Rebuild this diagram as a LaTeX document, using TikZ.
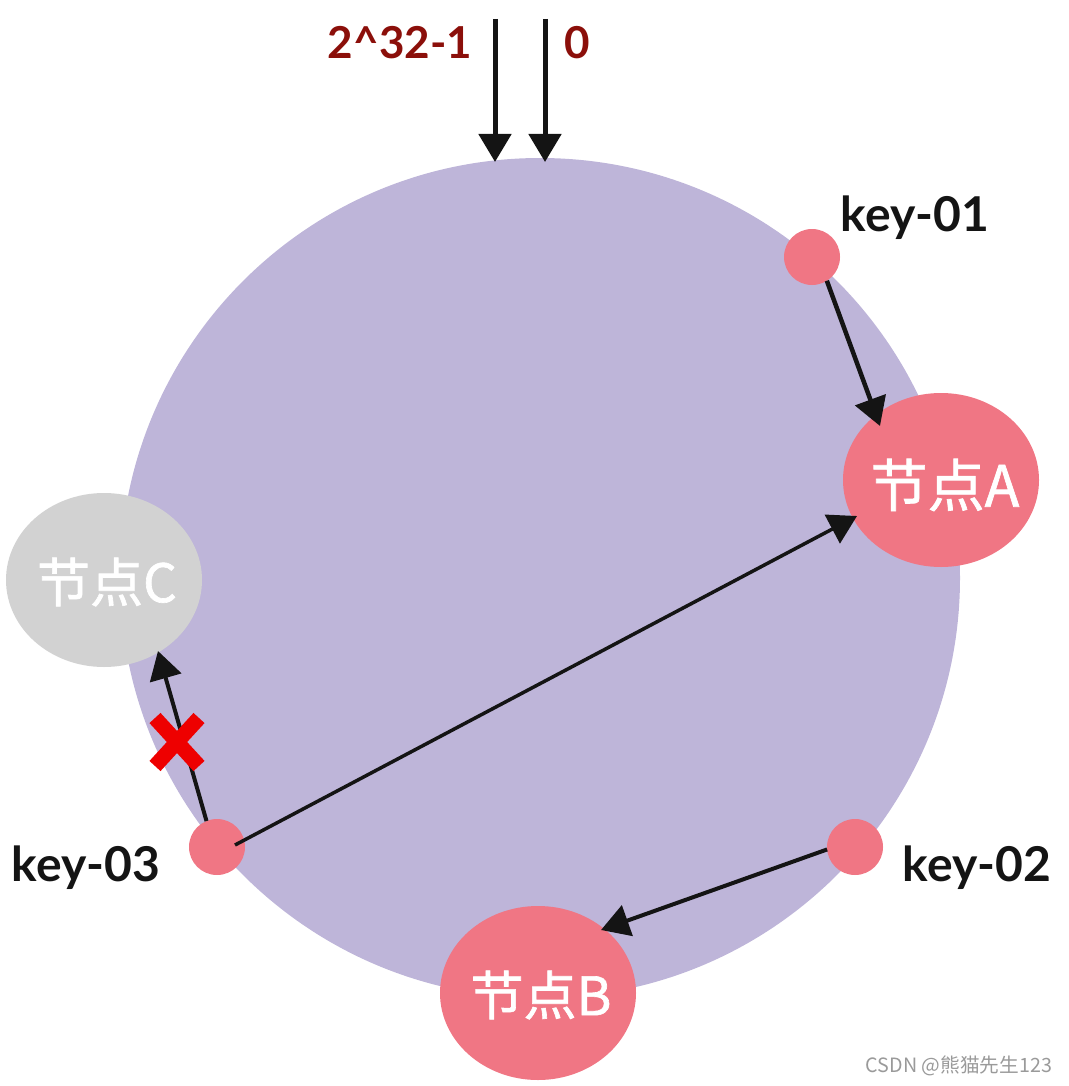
\documentclass[tikz,border=0pt]{standalone}
\usepackage{fontspec}
\setmainfont{Lato}
\newfontfamily\cjkf{Noto Sans CJK SC}
\newfontfamily\cjkm[FakeBold=1.2]{Noto Sans CJK SC}
\usetikzlibrary{shapes.geometric,arrows.meta,calc}
\definecolor{ringc}{HTML}{BEB5D9}
\definecolor{pinkc}{HTML}{F07684}
\definecolor{grayc}{HTML}{D2D2D2}
\definecolor{darkred}{HTML}{8B0F0A}
\definecolor{inkc}{HTML}{141414}
\definecolor{crossc}{HTML}{EE0000}
\definecolor{markc}{HTML}{9A9A9A}
\tikzset{
  every node/.style={inner sep=0pt,outer sep=0pt},
  bignode/.style={ellipse,minimum width=196pt,minimum height=174pt},
  bigtext/.style={text=white,font=\cjkm\fontsize{#1}{#1}\selectfont},
  bigtext/.default=53,
  keydot/.style={circle,fill=pinkc,minimum size=56pt},
  keylabel/.style={text=inkc,font=\bfseries\fontsize{48}{48}\selectfont},
  redlabel/.style={text=darkred,font=\bfseries\fontsize{44}{44}\selectfont},
  link/.style={draw=inkc,line width=#1,-{Triangle[length=28pt,width=32pt]}},
  link/.default=5pt,
  crossline/.style={draw=crossc,line width=15pt}
}
\begin{document}
\begin{tikzpicture}[x=1pt,y=-1pt]
\useasboundingbox (0,0) rectangle (1068,1086);
\node[circle,fill=ringc,minimum size=840pt] (ring) at (540,578) {};
\node[bignode,fill=pinkc] (A) at (941,480) {};
\node[bignode,fill=pinkc] (B) at (538,993) {};
\node[bignode,fill=grayc] (C) at (104,580) {};
\node[bigtext=57] (ta1) at ($(A)+(4,5)$) {节点A};
\node[bigtext] (tb1) at ($(B)+(3,2)$) {节点B};
\node[bigtext] (tc1) at ($(C)+(3,2)$) {节点C};
\node[keydot] (k1) at (812,257) {};
\node[keydot] (k2) at (855,847) {};
\node[keydot] (k3) at (217,847) {};
\node[keylabel,anchor=center] (l1) at (915,218) {key-01};
\node[keylabel,anchor=center] (l2) at (977,868) {key-02};
\node[keylabel,anchor=center] (l3) at (86,868) {key-03};
\node[redlabel] (max) at (400,43) {2\^{}32-1};
\node[redlabel] (zero) at (577,43) {0};
\node[text=markc,font=\cjkf\fontsize{19.7}{20}\selectfont] (wm) at (959,1066) {CSDN @熊猫先生123};
\coordinate (s1) at (495,19);
\coordinate (e1) at (495,162);
\coordinate (s2) at (545,19);
\coordinate (e2) at (545,162);
\coordinate (ta) at ($(A)+(-61,-54)$);
\coordinate (tb) at ($(A)+(-84,36)$);
\coordinate (tc) at ($(B)+(63,-63)$);
\coordinate (td) at ($(C)+(54,71)$);
\coordinate (sa) at ($(k3)+(18,-2)$);
\draw[link] (s1) -- (e1);
\draw[link] (s2) -- (e2);
\draw[link=4.5pt] (k1.-58) -- (ta);
\draw[link=3.5pt] (sa) -- (tb);
\draw[link=4pt] (k2.185) -- (tc);
\draw[link=4pt] (k3.112) -- (td);
\coordinate (xc) at ($(k3)+(-40,-105)$);
\draw[crossline] ($(xc)+(-22,-24)$) -- ($(xc)+(22,24)$);
\draw[crossline] ($(xc)+(-22,24)$) -- ($(xc)+(22,-24)$);
\end{tikzpicture}
\end{document}
